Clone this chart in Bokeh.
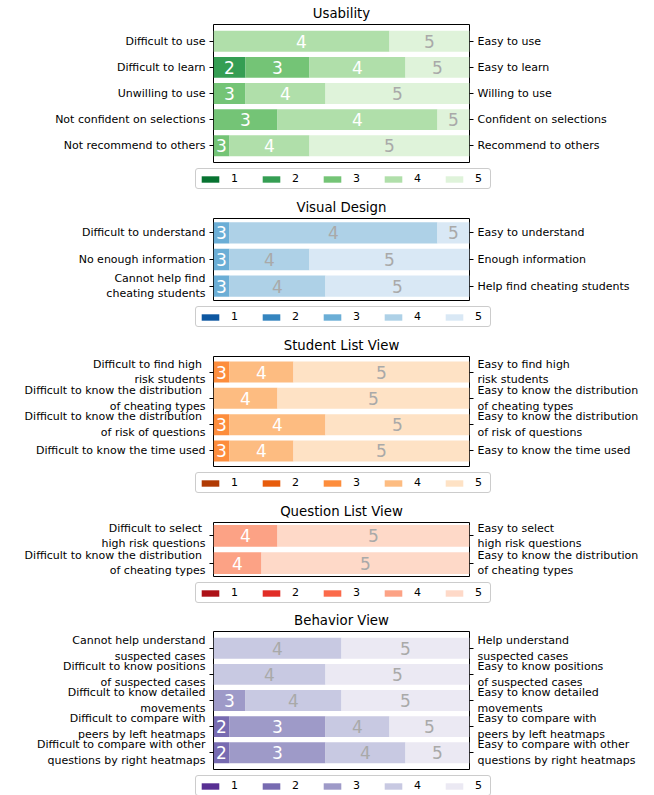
from bokeh.plotting import figure
from bokeh.models import Range1d, LinearAxis, FixedTicker, Legend, LegendItem, ColumnDataSource
from bokeh.layouts import column
from bokeh.embed import file_html
from bokeh.resources import INLINE
from bokeh.core.properties import value

levels = ["1", "2", "3", "4", "5"]

usability_left = ["Difficult to use", "Difficult to learn", "Unwilling to use",
                  "Not confident on selections", "Not recommend to others"]
usability_right = ["Easy to use", "Easy to learn", "Willing to use",
                   "Confident on selections", "Recommend to others"]
usability_counts = [[0, 0, 0, 11, 5], [0, 2, 4, 6, 4], [0, 0, 2, 5, 9],
                    [0, 0, 4, 10, 2], [0, 0, 1, 5, 10]]

visual_left = ["Difficult to understand", "No enough information",
               "Cannot help find\ncheating students"]
visual_right = ["Easy to understand", "Enough information",
                "Help find cheating students"]
visual_counts = [[0, 0, 1, 13, 2], [0, 0, 1, 5, 10], [0, 0, 1, 6, 9]]

student_left = ["Difficult to find high \nrisk students",
                "Difficult to know the distribution \nof cheating types",
                "Difficult to know the distribution \nof risk of questions",
                "Difficult to know the time used"]
student_right = ["Easy to find high\nrisk students",
                 "Easy to know the distribution\nof cheating types",
                 "Easy to know the distribution\nof risk of questions",
                 "Easy to know the time used"]
student_counts = [[0, 0, 1, 4, 11], [0, 0, 0, 4, 12], [0, 0, 1, 6, 9], [0, 0, 1, 4, 11]]

question_left = ["Difficult to select \nhigh risk questions",
                 "Difficult to know the distribution \nof cheating types"]
question_right = ["Easy to select\nhigh risk questions",
                  "Easy to know the distribution\nof cheating types"]
question_counts = [[0, 0, 0, 4, 12], [0, 0, 0, 3, 13]]

behavior_left = ["Cannot help understand\nsuspected cases",
                 "Difficult to know positions\nof suspected cases",
                 "Difficult to know detailed\nmovements",
                 "Difficult to compare with\npeers by left heatmaps",
                 "Difficult to compare with other\nquestions by right heatmaps"]
behavior_right = ["Help understand\nsuspected cases",
                  "Easy to know positions\nof suspected cases",
                  "Easy to know detailed\nmovements",
                  "Easy to compare with\npeers by left heatmaps",
                  "Easy to compare with other\nquestions by right heatmaps"]
behavior_counts = [[0, 0, 0, 8, 8], [0, 0, 0, 7, 9], [0, 0, 2, 6, 8],
                   [0, 1, 6, 4, 5], [0, 1, 6, 5, 4]]

# ColorBrewer sequential anchors (matplotlib colormaps)
GREENS = ["#f7fcf5", "#e5f5e0", "#c7e9c0", "#a1d99b", "#74c476", "#41ab5d", "#238b45", "#006d2c", "#00441b"]
BLUES = ["#f7fbff", "#deebf7", "#c6dbef", "#9ecae1", "#6baed6", "#4292c6", "#2171b5", "#08519c", "#08306b"]
ORANGES = ["#fff5eb", "#fee6ce", "#fdd0a2", "#fdae6b", "#fd8d3c", "#f16913", "#d94801", "#a63603", "#7f2704"]
REDS = ["#fff5f0", "#fee0d2", "#fcbba1", "#fc9272", "#fb6a4a", "#ef3b2c", "#cb181d", "#a50f15", "#67000d"]
PURPLES = ["#fcfbfd", "#efedf5", "#dadaeb", "#bcbddc", "#9e9ac8", "#807dba", "#6a51a3", "#54278f", "#3f007d"]

FONT = "DejaVu Sans"


def hex2rgb(h):
    return tuple(int(h[i:i + 2], 16) for i in (1, 3, 5))


def sample(anchors, t):
    pos = t * (len(anchors) - 1)
    i = min(int(pos), len(anchors) - 2)
    f = pos - i
    a, b = hex2rgb(anchors[i]), hex2rgb(anchors[i + 1])
    return tuple(a[k] + (b[k] - a[k]) * f for k in range(3))


def level_colors(anchors):
    ts = [0.85, 0.675, 0.5, 0.325, 0.15]
    out = []
    for t in ts:
        r, g, b = sample(anchors, t)
        hexc = "#%02x%02x%02x" % (round(r), round(g), round(b))
        txt = "white" if (r / 255) * (g / 255) * (b / 255) < 0.5 else "darkgrey"
        out.append((hexc, txt))
    return out


FRAME_W = 256
BORDER_L = 213
BORDER_R = 180
FIG_W = BORDER_L + FRAME_W + BORDER_R


def make_panel(title, left_labels, right_labels, counts, anchors, frame_h, top_b, bottom_b, legend_h):
    n = len(counts)
    total = sum(counts[0])
    m = 0.05 * (n - 1 + 0.8)
    p = figure(width=FIG_W, height=top_b + frame_h + bottom_b,
               x_range=Range1d(0, total), y_range=Range1d(n - 1 + 0.4 + m, -0.4 - m),
               output_backend="svg", toolbar_location=None,
               x_axis_location=None, y_axis_location=None,
               min_border_left=BORDER_L, min_border_right=BORDER_R,
               min_border_top=top_b, min_border_bottom=bottom_b)
    p.title.text = title
    p.title.align = "center"
    p.title.text_font = FONT
    p.title.text_font_size = "13.3px"
    p.title.text_font_style = "normal"
    p.title.text_color = "black"
    p.title.standoff = 7
    p.outline_line_color = "black"
    p.outline_line_width = 1
    p.outline_line_alpha = 1
    p.grid.grid_line_color = None
    p.background_fill_color = "white"
    p.border_fill_color = "white"

    cols = level_colors(anchors)
    seg_data = []
    tx, ty, tt, tc = [], [], [], []
    for k, lv in enumerate(levels):
        ys, lefts, rights = [], [], []
        for i, row in enumerate(counts):
            start = sum(row[:k])
            ys.append(i)
            lefts.append(start)
            rights.append(start + row[k])
            if row[k] > 0:
                tx.append(start + row[k] / 2)
                ty.append(i)
                tt.append(lv)
                tc.append(cols[k][1])
        seg_data.append((ys, lefts, rights))
        p.hbar(y=ys, left=lefts, right=rights, height=0.8,
               fill_color=cols[k][0], line_color=None)
    src = ColumnDataSource(dict(x=tx, y=ty, t=tt, c=tc))
    p.text(x="x", y="y", text="t", text_color="c", source=src,
           text_align="center", text_baseline="middle",
           text_font=value(FONT), text_font_size="17px")

    for side, labels in (("left", left_labels), ("right", right_labels)):
        ax = LinearAxis(ticker=FixedTicker(ticks=list(range(n))),
                        major_label_overrides={i: lab for i, lab in enumerate(labels)})
        ax.axis_line_color = None
        ax.major_tick_out = 4
        ax.major_tick_in = 0
        ax.major_tick_line_color = "black"
        ax.minor_tick_line_color = None
        ax.major_label_standoff = 4
        ax.major_label_text_font = FONT
        ax.major_label_text_font_size = "11px"
        ax.major_label_text_color = "black"
        p.add_layout(ax, side)

    # legend strip below the panel (same segment data, kept out of this strip's view)
    lg = figure(width=FIG_W, height=legend_h, x_range=Range1d(-3, -2), y_range=Range1d(-3, -2),
                output_backend="svg", toolbar_location=None,
                x_axis_location=None, y_axis_location=None,
                min_border_left=194, min_border_right=0, min_border_top=0, min_border_bottom=0)
    if hasattr(lg, "frame_align"):
        lg.frame_align = False
    lg.outline_line_color = None
    lg.grid.grid_line_color = None
    lg.background_fill_color = "white"
    lg.border_fill_color = "white"
    items = []
    for k, lv in enumerate(levels):
        ys, lefts, rights = seg_data[k]
        r = lg.hbar(y=ys, left=lefts, right=rights, height=0.8,
                    fill_color=cols[k][0], line_color=None)
        items.append(LegendItem(label=lv, renderers=[r]))
    leg = Legend(items=items, orientation="horizontal", location="top_left",
                 glyph_width=22, glyph_height=8, label_standoff=10,
                 label_width=12, label_height=11, spacing=17, padding=3, margin=1,
                 border_line_color="#cccccc", border_line_alpha=1,
                 background_fill_alpha=0.8,
                 label_text_font=FONT, label_text_font_size="11px",
                 label_text_color="black")
    if hasattr(leg, "border_radius"):
        leg.border_radius = 3
    lg.add_layout(leg)
    return p, lg


p1 = make_panel("Usability", usability_left, usability_right, usability_counts, GREENS, 138, 24, 5, 27)
p2 = make_panel("Visual Design", visual_left, visual_right, visual_counts, BLUES, 83, 23, 5, 27)
p3 = make_panel("Student List View", student_left, student_right, student_counts, ORANGES, 112, 22, 5, 27)
p4 = make_panel("Question List View", question_left, question_right, question_counts, REDS, 56, 22, 5, 26)
p5 = make_panel("Behavior View", behavior_left, behavior_right, behavior_counts, PURPLES, 138, 24, 5, 21)

layout = column(*p1, *p2, *p3, *p4, *p5, spacing=0)
open("out.html", "w").write(file_html(layout, INLINE))
